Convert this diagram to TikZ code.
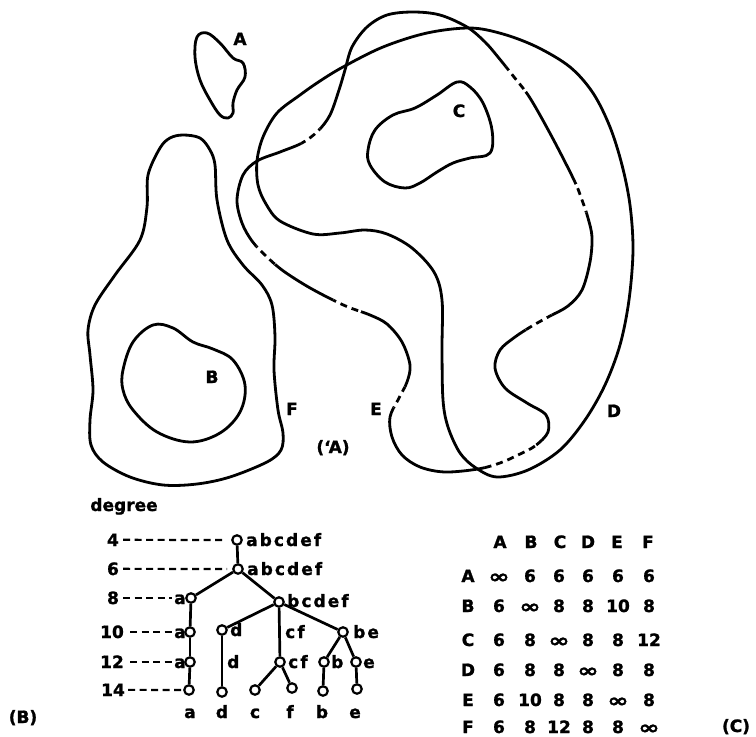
\documentclass[tikz,border=0pt]{standalone}
\usepackage{fontspec}
\usepackage{graphicx}
\setmainfont{DejaVu Sans}[BoldFeatures={FakeBold=1.2}]
\newfontfamily\widefont{DejaVu Sans}[LetterSpace=12, BoldFeatures={FakeBold=1.2}]
\newcommand{\infsym}{\raisebox{-1pt}{\scalebox{1.5}[1.1]{∞}}}
\begin{document}
\begin{tikzpicture}[x=1pt,y=-1pt,
  curve/.style={line width=2.8pt, line join=round, line cap=round},
  lbl/.style={font=\bfseries\fontsize{17}{17}\selectfont, inner sep=0pt, anchor=base},
  tlbl/.style={font=\widefont\bfseries\fontsize{17}{17}\selectfont, inner sep=0pt, anchor=base},
  tn/.style={circle, draw, line width=2.2pt, fill=white, minimum size=9.5pt, inner sep=0pt},
  tedge/.style={line width=2.7pt},
  lead/.style={line width=2.2pt, dash pattern=on 7pt off 4.5pt},
  dsh/.style={line width=2.8pt, dash pattern=on 7pt off 5pt},
  Epath/.style={insert path={plot[smooth cycle, tension=0.55] coordinates {
    (390,417) (392,437) (402,455) (420,467) (445,472) (478,469) (500,463) (518,455)
    (535,446) (548,432) (546,415) (527,403) (505,388) (495,368) (500,350) (515,337)
    (532,326) (550,316) (568,306) (582,290) (590,262) (592,237) (588,218) (582,200)
    (574,180) (552,137) (530,98) (514,77) (498,57) (485,42) (467,27) (440,15)
    (413,12) (387,15) (367,27) (352,47) (345,70) (339,90) (330,115) (318,131)
    (302,143) (280,152) (257,161) (243,175) (237,200) (242,223) (252,241) (266,256)
    (282,270) (305,285) (327,297) (348,307) (370,315) (387,324) (402,342) (410,365)
    (407,382) (399,398)}}}
]
\useasboundingbox (0,0) rectangle (756,737);

% ---------- region A ----------
\draw[curve] plot[smooth cycle, tension=0.6] coordinates {
  (197,37) (207,33) (220,43) (233,58) (243,63) (245,77) (237,90) (233,103)
  (233,113) (228,118) (220,115) (210,100) (200,80) (195,57)};
% ---------- region F ----------
\draw[curve] plot[smooth cycle, tension=0.55] coordinates {
  (183,135) (200,138) (210,150) (215,165) (217,200) (227,240) (243,265) (262,285)
  (272,305) (275,337) (274,370) (278,410) (283,433) (281,450) (267,462) (230,477)
  (197,484) (163,485) (130,477) (103,462) (91,445) (90,420) (93,390) (90,355)
  (88,330) (95,305) (115,275) (140,240) (147,207) (148,175) (160,148) (170,138)};
% ---------- region B ----------
\draw[curve] plot[smooth cycle, tension=0.6] coordinates {
  (123,370) (133,342) (153,325) (173,328) (193,342) (213,349) (233,360) (245,385)
  (240,412) (220,433) (190,442) (157,432) (133,410) (123,390)};
% ---------- region C ----------
\draw[curve] plot[smooth cycle, tension=0.6] coordinates {
  (457,82) (470,87) (483,103) (492,130) (490,153) (470,158) (453,163) (437,172)
  (420,183) (405,188) (385,182) (370,165) (368,150) (375,130) (393,115) (415,108)
  (437,95)};
% ---------- region D ----------
\draw[curve] plot[smooth cycle, tension=0.55] coordinates {
  (257,161) (263,137) (277,113) (300,95) (320,81) (343,67) (383,47) (427,33)
  (470,28) (503,34) (537,47) (570,67) (593,93) (610,127) (622,165) (630,205)
  (633,250) (629,300) (620,345) (605,385) (585,420) (560,450) (528,470) (497,477)
  (476,468) (460,453) (448,427) (443,400) (442,350) (442,300) (434,272) (412,248)
  (387,234) (365,230) (340,233) (313,234) (280,221) (266,204) (258,185)};
% ---------- region E (partly dashed) ----------
\draw[curve, Epath];
\begin{scope}
  \clip (311,137) circle[radius=12] (266,255) circle[radius=13]
        (347,306) circle[radius=15] (399,397) circle[radius=12]
        (483,458) -- (531,437) -- (540,451) -- (487,478) -- cycle
        (538,321) circle[radius=15] (516,79) circle[radius=16]
        (582,198) circle[radius=15];
  \draw[white, line width=5.5pt, Epath];
  \draw[dsh, Epath];
\end{scope}

% region labels
\node[lbl] (labA) at (240,45) {A};
\node[lbl] (labC) at (459,117) {C};
\node[lbl] (labB) at (212,383) {B};
\node[lbl] (labF) at (292,415) {F};
\node[lbl] (labE) at (376,415) {E};
\node[lbl] (labD) at (614,417) {D};
\node[lbl] (capA) at (333,453) {(\textquoteleft A)};

% ---------- tree (B) ----------
\node[lbl] (deg) at (124,511) {degree};
\node[lbl] (L4) at (113,546) {4};
\node[lbl] (L6) at (113,575) {6};
\node[lbl] (L8) at (113,604) {8};
\node[lbl] (L10) at (112,638) {10};
\node[lbl] (L12) at (112,668) {12};
\node[lbl] (L14) at (113,696) {14};

\node[tn] (t4) at (237,540) {};
\node[tn] (t6) at (238,569) {};
\node[tn] (a8) at (191,598) {};
\node[tn] (bc) at (279,602) {};
\node[tn] (a10) at (190,632) {};
\node[tn] (d10) at (222,630) {};
\node[tn] (be10) at (343,632) {};
\node[tn] (a12) at (190,662) {};
\node[tn] (cf12) at (280,662) {};
\node[tn] (b12) at (324,662) {};
\node[tn] (e12) at (356,662) {};
\node[tn] (la) at (189,690) {};
\node[tn] (ld) at (222,692) {};
\node[tn] (lc) at (255,690) {};
\node[tn] (lf) at (292,688) {};
\node[tn] (lb) at (323,691) {};
\node[tn] (le) at (357,689) {};

\node[tlbl, anchor=base west] (t4l) at (246,546) {abcdef};
\node[tlbl, anchor=base west] (t6l) at (247,575) {abcdef};
\node[tlbl] (a8l) at (180,604) {a};
\node[tlbl, anchor=base west] (bcl) at (287,607) {bcdef};
\node[tlbl] (a10l) at (180,638) {a};
\node[tlbl, anchor=base west] (d10l) at (230,636) {d};
\node[tlbl, anchor=base west] (cf10l) at (285,638) {cf};
\node[tlbl, anchor=base west] (be10l) at (353,638) {be};
\node[tlbl] (a12l) at (180,668) {a};
\node[tlbl, anchor=base west] (d12l) at (227,668) {d};
\node[tlbl, anchor=base west] (cf12l) at (288,668) {cf};
\node[tlbl, anchor=base west] (b12l) at (331,668) {b};
\node[tlbl, anchor=base west] (e12l) at (363,668) {e};
\node[tlbl] (ba) at (190,718) {a};
\node[tlbl] (bd) at (222,718) {d};
\node[tlbl] (bcc) at (255,718) {c};
\node[tlbl] (bf) at (290,718) {f};
\node[tlbl] (bb) at (322,718) {b};
\node[tlbl] (be) at (355,718) {e};
\node[lbl] (capB) at (23,723) {(B)};

\draw[lead, shorten <=4pt, shorten >=5pt] (L4) -- (t4);
\draw[lead, shorten <=4pt, shorten >=5pt] (L6) -- (t6);
\draw[lead, shorten <=4pt, shorten >=2pt] (L8) -- (a8l.west |- L8);
\draw[lead, shorten <=6pt, shorten >=2pt] (L10) -- (a10l.west |- L10);
\draw[lead, shorten <=6pt, shorten >=2pt] (L12) -- (a12l.west |- L12);
\draw[lead, shorten <=3pt, shorten >=2pt] (L14) -- (la);

\draw[tedge] (t4) -- (t6);
\draw[tedge] (t6) -- (a8);
\draw[tedge] (t6) -- (bc);
\draw[tedge] (a8) -- (a10);
\draw[tedge] (a10) -- (a12);
\draw[tedge] (a12) -- (la);
\draw[tedge] (bc) -- (d10);
\draw[tedge] (bc) -- (cf12);
\draw[tedge] (bc) -- (be10);
\draw[tedge] (d10) -- (ld);
\draw[tedge] (cf12) -- (lc);
\draw[tedge] (cf12) -- (lf);
\draw[tedge] (be10) -- (b12);
\draw[tedge] (be10) -- (e12);
\draw[tedge] (b12) -- (lb);
\draw[tedge] (e12) -- (le);

% ---------- matrix (C) ----------
\foreach \cn/\cx in {A/500,B/531,C/560,D/588,E/617,F/648}
  \node[lbl] (h\cn) at (\cx,548) {\cn};
\foreach \rn/\bl/\va/\vb/\vc/\vd/\ve/\vf in {
    A/582/\infsym/6/6/6/6/6,
    B/612/6/\infsym/8/8/10/8,
    C/646/6/8/\infsym/8/8/12,
    D/676/6/8/8/\infsym/8/8,
    E/706/6/10/8/8/\infsym/8,
    F/733/6/8/12/8/8/\infsym} {
  \node[lbl] (r\rn) at (468,\bl) {\rn};
  \node[lbl] (m\rn A) at (499,\bl) {\va};
  \node[lbl] (m\rn B) at (530,\bl) {\vb};
  \node[lbl] (m\rn C) at (559,\bl) {\vc};
  \node[lbl] (m\rn D) at (588,\bl) {\vd};
  \node[lbl] (m\rn E) at (618,\bl) {\ve};
  \node[lbl] (m\rn F) at (649,\bl) {\vf};
}
\node[lbl] (capC) at (736,732) {(C)};
\end{tikzpicture}
\end{document}
